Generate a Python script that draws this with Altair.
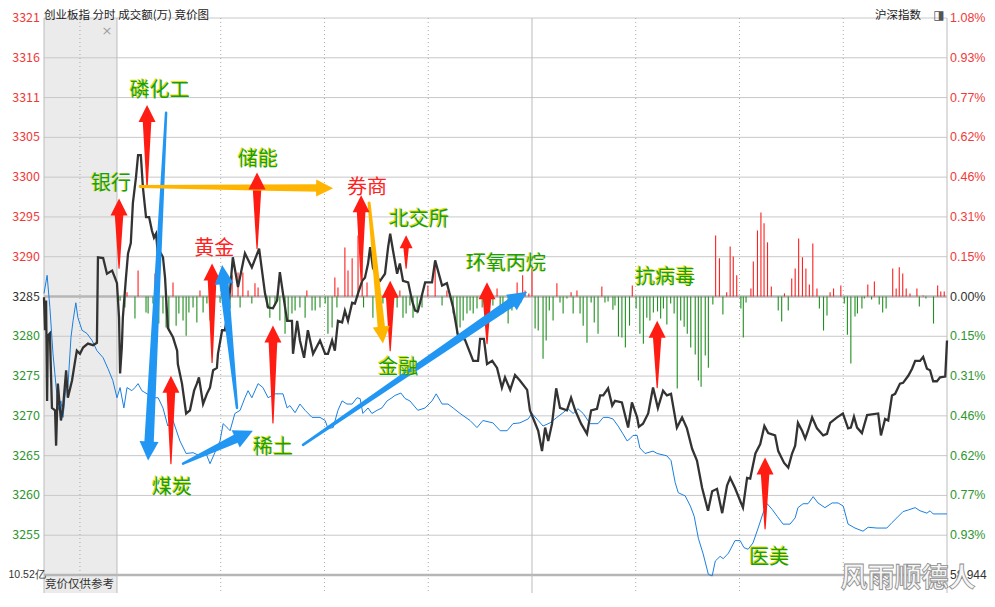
import math
import altair as alt
import pandas as pd

P0 = 3285.2          # previous close of 创业板指
GRID_PCT = 1.08 / 7  # one grid step, in percent

# ---- 创业板指 (black line): (minute from 9:30, index level); negative minutes = call auction
black_auction = [(-21.1,3285.1),(-20.8,3280.9),(-20.5,3284.7),(-20.2,3271.9),(-20.0,3280.2),(-19.4,3280.5),
    (-18.8,3271.0),(-17.9,3270.7),(-17.6,3266.2),(-17.1,3274.1),(-16.2,3269.4),(-15.6,3271.0),(-14.7,3275.8),
    (-14.2,3272.3),(-13.0,3274.5),(-12.1,3277.0),(-11.6,3278.3),(-10.7,3277.9),(-9.8,3278.7),(-8.4,3279.2),
    (-6.9,3279.0),(-5.8,3279.3),(-5.5,3290.2),(-4.0,3290.1),(-2.9,3288.1),(-1.4,3288.5),(-0.6,3287.6),(0.0,3286.9)]
black_am = [(0.6,3282.5),(0.9,3275.4),(1.4,3278.7),(1.7,3282.5),(2.6,3287.6),(3.2,3290.7),(4.0,3292.0),(4.6,3297.1),
    (5.5,3300.4),(6.1,3303.2),(6.9,3303.2),(7.5,3299.1),(8.4,3295.3),(9.3,3295.3),(10.1,3293.6),(10.7,3292.7),
    (11.3,3293.2),(11.9,3290.2),(12.7,3290.7),(13.3,3290.2),(13.9,3287.6),(14.7,3281.2),(16.2,3280.0),(17.4,3278.3),
    (17.6,3276.6),(18.8,3274.1),(20.0,3270.3),(21.1,3270.7),(22.3,3273.2),(23.1,3274.1),(23.7,3274.9),(24.9,3271.5),
    (26.0,3272.8),(26.9,3273.6),(27.8,3275.8),(28.9,3276.1),(29.2,3277.9),(30.4,3280.9),(31.2,3280.9),(31.8,3282.5),
    (32.7,3286.0),(33.5,3290.2),(35.0,3286.4),(37.0,3290.7),(39.0,3288.9),(41.1,3291.3),(42.8,3285.6),(43.7,3283.8),
    (45.1,3283.7),(46.3,3284.7),(47.1,3288.3),(48.0,3285.6),(49.2,3282.1),(50.6,3282.1),(50.9,3277.9),(52.1,3282.1),
    (52.9,3279.6),(54.1,3277.4),(55.2,3280.9),(56.7,3277.9),(58.7,3279.6),(60.2,3277.9),(61.0,3277.9),(62.2,3279.6),
    (63.0,3278.3),(63.9,3282.1),(65.1,3281.9),(65.9,3283.4),(66.8,3282.1),(68.0,3284.4),(68.8,3284.3),(69.7,3285.6),
    (70.9,3287.2),(71.7,3287.6),(72.6,3289.4),(73.2,3291.5),(74.0,3288.9),(75.2,3287.6),(76.1,3287.2),(77.5,3288.1),
    (78.4,3291.5),(79.0,3293.2),(79.8,3291.1),(81.0,3288.1),(81.8,3289.4),(82.7,3287.2),(84.2,3287.0),(85.3,3284.7),
    (86.2,3283.4),(87.0,3283.3),(89.1,3287.0),(91.1,3287.0),(92.0,3289.8),(94.0,3286.6),(95.4,3286.9),(97.2,3283.8),
    (98.6,3280.2),(100.6,3279.7),(103.0,3277.0),(104.4,3277.0),(105.0,3279.8),(106.1,3279.8),(107.0,3276.6),
    (108.5,3277.0),(109.9,3276.1),(111.3,3273.6),(112.2,3274.9),(113.7,3273.3),(115.1,3275.2),(116.5,3274.5),
    (118.6,3273.3),(119.4,3270.7)]
black_pm = [(120.6,3269.4),(121.8,3268.1),(122.9,3265.5),(123.8,3268.5),(124.7,3266.8),(125.8,3269.0),(127.0,3273.5),
    (128.1,3271.0),(130.1,3270.7),(131.3,3272.3),(132.5,3270.7),(134.2,3269.0),(135.9,3267.7),(137.1,3270.7),
    (138.8,3270.9),(139.7,3272.6),(140.6,3272.6),(142.0,3273.5),(143.2,3271.3),(144.0,3271.9),(146.0,3271.7),
    (147.8,3268.5),(148.9,3271.7),(150.4,3269.8),(150.9,3268.6),(152.1,3269.0),(153.6,3270.3),(155.0,3273.6),
    (156.4,3271.0),(157.9,3273.2),(159.0,3272.6),(160.2,3272.8),(161.9,3268.5),(163.4,3269.8),(164.8,3268.4),
    (166.3,3265.8),(167.7,3264.3),(169.2,3260.8),(170.9,3257.9),(172.1,3260.4),(173.5,3260.7),(175.0,3257.6),
    (176.4,3261.1),(177.3,3262.1),(178.7,3260.8),(181.0,3258.3),(182.2,3262.1),(183.1,3262.0),(184.6,3265.2),
    (186.0,3266.4),(187.2,3268.7),(188.3,3267.8),(190.3,3267.5),(191.2,3265.5),(192.9,3264.0),(194.1,3263.4),
    (195.2,3265.2),(196.1,3266.2),(196.9,3269.1),(198.1,3268.1),(199.0,3267.1),(199.8,3268.1),(201.0,3269.8),
    (202.4,3268.4),(204.2,3267.5),(205.3,3267.7),(206.2,3269.1),(208.2,3269.8),(209.9,3270.3),(211.4,3268.4),
    (212.2,3268.5),(213.1,3269.9),(214.0,3268.5),(215.4,3267.8),(216.9,3270.1),(220.1,3270.3),(220.9,3267.5),
    (222.1,3269.6),(223.0,3269.4),(224.1,3272.6),(225.0,3272.8),(226.4,3274.1),(227.3,3274.2),(228.8,3275.1),
    (229.9,3276.0),(230.8,3277.0),(232.2,3277.0),(233.1,3277.5),(234.2,3276.0),(235.1,3275.8),(236.0,3274.4),
    (237.1,3274.4),(238.0,3274.9),(239.5,3275.0),(240.0,3279.6)]

# ---- 沪深指数 (blue line), drawn on the same scale
blue_auction = [(-21.1,3285.6),(-20.2,3287.9),(-19.4,3283.8),(-18.5,3277.9),(-17.4,3272.8),(-17.1,3270.7),
    (-16.2,3271.9),(-15.6,3269.8),(-14.7,3274.1),(-14.2,3273.6),(-13.3,3280.0),(-12.7,3282.1),(-11.9,3284.4),
    (-11.3,3282.5),(-10.1,3280.9),(-8.7,3280.5),(-7.2,3279.6),(-5.8,3278.3),(-4.0,3277.4),(-2.6,3276.0),
    (-1.2,3274.5),(0.0,3272.3)]
blue_am = [(0.9,3273.6),(2.0,3271.0),(2.9,3273.6),(4.3,3273.2),(5.2,3273.6),(6.1,3274.1),(7.2,3273.2),(8.7,3272.8),
    (10.1,3272.3),(11.9,3272.3),(13.3,3271.0),(14.7,3268.7),(16.2,3269.4),(18.2,3266.8),(20.0,3265.2),(22.0,3265.3),
    (24.0,3264.9),(25.5,3265.5),(26.9,3263.9),(28.3,3265.3),(29.8,3266.8),(30.7,3269.0),(32.1,3268.4),(32.7,3268.1),
    (34.1,3270.3),(35.6,3270.7),(37.0,3272.3),(37.9,3273.2),(39.0,3272.3),(40.8,3274.1),(42.2,3273.6),(43.7,3272.3),
    (45.7,3272.8),(48.0,3272.8),(49.2,3271.0),(50.0,3271.3),(51.5,3270.4),(52.9,3271.5),(54.4,3270.7),(56.4,3269.8),
    (58.7,3269.8),(60.2,3269.4),(61.0,3268.4),(62.5,3268.5),(63.9,3270.7),(65.1,3271.9),(66.5,3271.5),(68.0,3271.5),
    (69.4,3272.3),(70.3,3272.2),(71.1,3270.3),(72.6,3271.0),(73.7,3270.3),(75.2,3270.7),(76.6,3271.0),(78.1,3271.9),
    (79.5,3272.3),(80.4,3272.6),(82.1,3272.9),(83.3,3272.2),(84.7,3271.9),(87.0,3270.7),(89.1,3271.0),(91.1,3271.9),
    (92.3,3272.8),(94.0,3271.5),(95.7,3271.5),(97.2,3271.0),(99.2,3270.3),(102.1,3269.4),(104.1,3268.5),
    (105.8,3269.4),(108.7,3269.1),(110.8,3268.1),(112.8,3268.1),(114.5,3269.0),(116.5,3269.1),(118.9,3269.6),
    (120.0,3270.3)]
blue_pm = [(121.8,3269.4),(123.2,3268.7),(125.2,3269.1),(127.2,3269.8),(129.0,3270.4),(130.4,3270.9),(131.9,3270.3),
    (133.3,3270.9),(134.8,3270.3),(136.8,3269.0),(139.1,3269.0),(140.6,3269.8),(142.0,3269.8),(143.4,3269.6),
    (144.9,3268.7),(146.3,3267.7),(147.5,3266.8),(148.4,3267.1),(149.2,3267.5),(150.4,3267.5),(151.2,3265.9),
    (152.7,3265.2),(155.0,3265.5),(156.2,3265.2),(159.0,3264.9),(160.2,3264.3),(161.4,3261.5),(162.3,3260.2),
    (164.3,3259.8),(165.8,3258.5),(166.9,3257.2),(168.1,3254.4),(169.5,3252.4),(171.0,3249.8),(172.1,3249.6),
    (173.0,3251.5),(174.4,3252.1),(175.3,3251.8),(176.8,3252.5),(178.7,3254.1),(180.2,3254.1),(181.3,3253.2),
    (182.5,3253.0),(183.9,3253.8),(185.4,3255.7),(186.8,3257.6),(188.0,3258.8),(189.4,3258.1),(190.9,3257.2),
    (192.6,3256.2),(194.6,3256.2),(196.1,3257.0),(196.9,3258.3),(198.4,3258.8),(199.8,3258.8),(201.3,3259.7),
    (202.7,3258.9),(204.7,3258.3),(206.8,3258.9),(208.5,3258.9),(210.0,3258.5),(211.4,3256.2),(213.4,3255.7),
    (215.7,3255.3),(217.2,3255.8),(219.8,3255.7),(222.6,3255.7),(224.1,3256.4),(225.5,3257.0),(227.3,3257.8),
    (228.8,3258.0),(230.8,3258.3),(232.2,3257.9),(234.2,3257.6),(235.1,3257.9),(236.0,3257.5),(238.0,3257.5),
    (240.0,3257.5)]

# ---- red / green bars around the zero line (in percent)
flow_am = [(0.9,-0.016),(2.3,-0.043),(2.9,0.016),(5.2,-0.085),(6.1,0.101),(8.4,-0.062),(9.0,-0.066),(10.4,-0.027),
    (11.0,0.089),(12.1,-0.105),(13.3,-0.066),(14.2,-0.120),(15.0,-0.124),(16.2,0.054),(17.1,-0.113),(17.9,-0.066),
    (19.1,-0.093),(20.0,-0.152),(20.8,-0.062),(22.0,-0.043),(23.1,-0.101),(24.0,0.023),(24.9,-0.062),(26.0,-0.027),
    (26.9,-0.093),(28.1,-0.054),(29.8,-0.023),(32.7,-0.047),(33.3,0.082),(35.0,0.093),(35.6,-0.043),(36.4,0.093),
    (37.9,0.023),(39.0,-0.027),(39.9,0.051),(40.8,0.035),(43.4,-0.043),(44.2,-0.082),(45.7,-0.035),(47.1,-0.093),
    (48.6,-0.144),(49.5,-0.093),(50.6,-0.066),(51.5,-0.054),(52.9,-0.043),(54.4,-0.082),(54.9,0.023),(56.4,-0.054),
    (57.3,-0.054),(58.7,-0.043),(60.2,-0.027),(61.0,-0.144),(62.2,-0.120),(63.0,0.074),(63.6,-0.043),(63.9,0.035),
    (65.9,0.190),(66.8,0.101),(68.0,0.148),(69.7,0.237),(70.9,0.179),(71.3,-0.043),(72.3,0.054),(74.0,-0.082),
    (75.5,-0.035),(76.9,-0.027),(78.4,-0.054),(79.5,-0.023),(81.0,-0.043),(81.8,0.023),(82.7,-0.082),(83.6,-0.066),
    (84.7,-0.035),(85.6,-0.082),(86.8,-0.066),(88.2,-0.043),(89.9,0.043),(92.0,0.128),(94.0,-0.035),(95.4,0.023),
    (97.2,-0.066),(98.3,-0.144),(99.2,-0.120),(100.1,-0.093),(101.2,-0.066),(102.1,-0.054),(103.0,-0.066),
    (104.1,-0.047),(105.6,-0.043),(107.3,-0.047),(108.7,-0.035),(109.9,0.031),(110.8,-0.054),(111.6,-0.066),
    (113.1,-0.105),(114.2,-0.054),(115.1,-0.035),(115.7,0.054),(116.8,-0.023),(117.3,0.082),(118.0,0.023),
    (119.1,0.012),(120.0,0.109)]
flow_pm = [(120.9,-0.124),(121.8,-0.132),(123.2,-0.241),(124.1,-0.171),(125.0,-0.054),(126.1,-0.093),(127.2,0.051),
    (128.1,-0.023),(129.0,-0.066),(130.1,-0.008),(131.3,0.016),(131.9,-0.066),(133.0,0.023),(133.9,-0.066),
    (134.8,-0.113),(135.9,-0.179),(137.1,-0.023),(138.0,-0.101),(139.1,-0.144),(140.2,0.039),(141.1,-0.023),
    (142.0,-0.019),(143.4,-0.051),(144.0,-0.035),(145.0,-0.155),(146.0,-0.159),(147.0,-0.198),(148.2,-0.113),
    (149.0,0.043),(150.1,-0.047),(151.2,-0.144),(152.2,-0.183),(153.2,-0.082),(154.1,-0.093),(155.1,-0.062),
    (156.3,-0.058),(157.2,-0.085),(158.0,-0.047),(159.0,-0.109),(160.1,-0.027),(161.1,-0.066),(162.0,-0.357),
    (163.0,-0.093),(164.0,-0.117),(164.9,-0.144),(165.9,-0.198),(167.2,-0.225),(168.1,-0.326),(168.9,-0.350),
    (170.1,-0.229),(171.0,-0.276),(172.3,-0.031),(173.1,0.237),(174.2,0.148),(175.2,-0.070),(176.3,0.016),
    (177.3,0.194),(178.2,0.155),(179.2,0.082),(180.4,-0.047),(181.1,-0.159),(181.9,-0.023),(183.3,0.031),
    (184.0,0.136),(185.2,0.256),(186.2,0.326),(187.1,0.284),(188.1,0.210),(189.2,0.039),(191.2,-0.054),
    (192.2,-0.097),(193.0,0.012),(194.1,-0.054),(195.1,0.070),(196.1,0.109),(197.1,0.225),(198.2,0.152),
    (199.2,0.109),(200.2,0.047),(201.2,0.206),(202.4,0.031),(203.1,-0.047),(204.3,-0.132),(205.3,-0.074),
    (206.2,0.016),(207.2,0.031),(209.3,0.043),(210.3,-0.027),(211.2,-0.148),(212.2,-0.260),(213.4,-0.078),
    (214.1,-0.066),(215.4,-0.047),(216.1,-0.008),(217.1,0.047),(218.2,-0.012),(219.0,0.058),(220.4,-0.031),
    (221.4,-0.062),(222.4,-0.047),(224.3,0.109),(225.3,0.031),(226.2,0.113),(227.2,0.089),(228.2,0.031),
    (229.3,0.012),(231.3,0.031),(232.0,-0.039),(233.1,0.004),(233.9,-0.008),(236.1,-0.105),(237.3,0.043),
    (238.2,0.019),(239.2,0.019)]

# ---- axis labels (grid steps +7 .. -6) and the panel-border values (step -7)
grid_levels = list(range(7, -8, -1))
left_labels = ["3321","3316","3311","3305","3300","3295","3290","3285","3280","3275","3270","3265","3260","3255"]
right_labels = ["1.08%","0.93%","0.77%","0.62%","0.46%","0.31%","0.15%","0.00%","0.15%","0.31%","0.46%","0.62%",
                "0.77%","0.93%"]
amount_left = "10.52亿"
amount_right = "58,944"
v_solid = [-21.1, 0, 120, 240]
v_dotted = [-10.7, 30, 60, 90, 150, 180, 210]

# ---- annotations: sector names (text, minute, level, colour kind)
sectors = [("磷化工",12.4,3311.4,"g"),("银行",-1.7,3299.5,"g"),("储能",40.8,3302.6,"g"),("券商",72.3,3299.0,"r"),
           ("黄金",28.1,3291.2,"r"),("北交所",87.3,3295.0,"g"),("环氧丙烷",112.5,3289.3,"g"),("抗病毒",158.5,3287.6,"g"),
           ("金融",81.3,3276.1,"g"),("稀土",45.1,3265.9,"g"),("煤炭",15.9,3260.8,"g"),("医美",188.6,3251.9,"g")]
# arrows: (kind, tail minute, tail level, tip minute, tip level)
arrow_specs = [("red",8.7,3299.1,8.7,3309.6),("red",0.6,3288.8,0.6,3297.7),("red",40.5,3291.3,40.5,3301.0),
    ("red",70.6,3287.2,70.6,3298.1),("red",27.5,3276.8,27.5,3289.4),("red",83.6,3288.8,83.6,3293.0),
    ("red",79.0,3278.3,79.0,3287.2),("red",45.1,3269.1,45.1,3281.5),("red",15.6,3263.9,15.6,3275.1),
    ("red",107.0,3279.2,107.0,3287.0),("red",156.2,3273.6,156.2,3282.1),("red",187.4,3255.6,187.4,3264.7),
    ("blue",14.2,3308.6,9.0,3264.3),("blue",34.7,3271.0,30.4,3289.2),("blue",19.1,3263.9,39.3,3268.1),
    ("blue",53.8,3266.3,118.6,3285.8),
    ("yellow",6.7,3299.2,62.5,3299.0),("yellow",72.9,3297.1,76.9,3279.2)]


def to_pct(p):
    return (p - P0) / P0 * 100.0


# ---------------- layout / scales ----------------
W, H_MAIN, H_EXTRA = 903, 557, 18
H = H_MAIN + H_EXTRA
T0, T1 = -21.1, 240.0
Y_TOP = 1.08
Y_BOT = -1.08 - 2.16 * H_EXTRA / H_MAIN
KX = W / (T1 - T0)
KY = H / (Y_TOP - Y_BOT)
xs = alt.Scale(domain=[T0, T1], nice=False, zero=False)
ys = alt.Scale(domain=[Y_BOT, Y_TOP], nice=False, zero=False)


def X(f):
    return alt.X(f, type="quantitative", scale=xs, axis=None)


def Y(f):
    return alt.Y(f, type="quantitative", scale=ys, axis=None)


RED_LAB, GREEN_LAB, DARK = "#f03a3a", "#2e962e", "#333333"
FONT_CJK = "Noto Sans CJK SC"
FONT_NUM = "Liberation Sans"

# background of the call auction
auc = pd.DataFrame({"a": [T0], "b": [0.0], "lo": [Y_BOT], "hi": [Y_TOP]})
auction_rect = alt.Chart(auc).mark_rect(color="#ebebeb").encode(x=X("a"), x2="b", y=Y("lo"), y2="hi")

# grid
gdf = pd.DataFrame({"k": grid_levels})
gdf["g"] = gdf["k"] * GRID_PCT
gdf["sw"] = gdf["k"].apply(lambda k: 2.5 if k in (0, -7) else 1.0)
gdf["c"] = gdf["k"].apply(lambda k: "#b6b6b6" if k in (0, -7) else "#c8c8c8")
hgrid = alt.Chart(gdf).mark_rule().encode(
    y=Y("g"), strokeWidth=alt.StrokeWidth("sw:Q", scale=None), color=alt.Color("c:N", scale=None))
vsolid = alt.Chart(pd.DataFrame({"t": v_solid})).mark_rule(color="#bcbcbc", strokeWidth=1).encode(x=X("t"))
vdot = alt.Chart(pd.DataFrame({"t": v_dotted})).mark_rule(
    color="#aaaaaa", strokeWidth=1, strokeDash=[1, 3]).encode(x=X("t"))

# bars
fdf = pd.DataFrame(flow_am + flow_pm, columns=["t", "v"])
fdf["c"] = fdf["v"].apply(lambda v: "#ff1f1f" if v > 0 else "#1f8f1f")
bars = alt.Chart(fdf).mark_rule(strokeWidth=1.1).encode(
    x=X("t"), y=Y("v"), y2=alt.datum(0), color=alt.Color("c:N", scale=None))

# lines
bdf = pd.DataFrame(blue_auction + blue_am + blue_pm, columns=["t", "p"])
bdf["pct"] = to_pct(bdf["p"])
bdf["i"] = range(len(bdf))
blue_line = alt.Chart(bdf).mark_line(color="#1a7fe0", strokeWidth=1).encode(x=X("t"), y=Y("pct"), order="i:Q")

kdf = pd.DataFrame(black_auction + black_am + black_pm, columns=["t", "p"])
kdf["pct"] = to_pct(kdf["p"])
kdf["i"] = range(len(kdf))
black_line = alt.Chart(kdf).mark_line(color="#333333", strokeWidth=2.3).encode(x=X("t"), y=Y("pct"), order="i:Q")

# arrows
ARROW = {"red": ("#ff1c12", 1.2, 9.0, 17.0), "blue": ("#2196f3", 2.5, 9.5, 19.0), "yellow": ("#ffb400", 3.0, 7.5, 17.0)}
trail_rows, head_rows = [], []
for i, (kind, ta, pa, tb, pb) in enumerate(arrow_specs):
    col, w0, w1, hs = ARROW[kind]
    ya, yb = to_pct(pa), to_pct(pb)
    dx = (tb - ta) * KX
    dy = (yb - ya) * KY
    L = math.hypot(dx, dy)
    if L < 50:
        hs, w1 = 13.0, 6.0
    f = max(0.0, 1 - 0.75 * hs / L)
    trail_rows.append(dict(id=i, seq=0, t=ta, pct=ya, w=w0, c=col))
    trail_rows.append(dict(id=i, seq=1, t=ta + f * (tb - ta), pct=ya + f * (yb - ya), w=w1, c=col))
    ang = math.degrees(math.atan2(dx, dy)) % 360
    head_rows.append(dict(t=tb, pct=yb, ang=ang, s=hs * hs, c=col))
tdf = pd.DataFrame(trail_rows)
hdf = pd.DataFrame(head_rows)
shafts = alt.Chart(tdf).mark_trail().encode(
    x=X("t"), y=Y("pct"), size=alt.Size("w:Q", scale=None), color=alt.Color("c:N", scale=None),
    detail="id:N", order="seq:Q")
heads = alt.Chart(hdf).mark_point(shape="M0,0L1,2L-1,2Z", filled=True, opacity=1, strokeWidth=0).encode(
    x=X("t"), y=Y("pct"), angle=alt.Angle("ang:Q", scale=None), size=alt.Size("s:Q", scale=None),
    color=alt.Color("c:N", scale=None))

# sector texts
sdf = pd.DataFrame(sectors, columns=["txt", "t", "p", "k"])
sdf["pct"] = to_pct(sdf["p"])
sdf["c"] = sdf["k"].map({"g": "#14a014", "r": "#ff2020"})
glow = alt.Chart(sdf[sdf["k"] == "g"]).mark_text(
    font=FONT_CJK, fontSize=20, color="#e8dc00", dx=-0.8, dy=-0.6, baseline="middle").encode(
    x=X("t"), y=Y("pct"), text="txt:N")
stext = alt.Chart(sdf).mark_text(font=FONT_CJK, fontSize=20, baseline="middle").encode(
    x=X("t"), y=Y("pct"), text="txt:N", color=alt.Color("c:N", scale=None))

# axis labels
ldf = pd.DataFrame({"k": grid_levels[:-1], "L": left_labels, "R": right_labels})
ldf["g"] = ldf["k"] * GRID_PCT
ldf["c"] = ldf["k"].apply(lambda k: RED_LAB if k > 0 else (DARK if k == 0 else GREEN_LAB))
left_lab = alt.Chart(ldf).mark_text(align="right", baseline="middle", font=FONT_CJK, fontSize=12.5).encode(
    x=alt.value(-4), y=Y("g"), text="L:N", color=alt.Color("c:N", scale=None))
right_lab = alt.Chart(ldf).mark_text(align="left", baseline="middle", font=FONT_NUM, fontSize=12.5).encode(
    x=alt.value(906), y=Y("g"), text="R:N", color=alt.Color("c:N", scale=None))
adf = pd.DataFrame({"g": [-7 * GRID_PCT], "L": [amount_left], "R": [amount_right]})
amt_left = alt.Chart(adf).mark_text(align="left", baseline="middle", font=FONT_NUM, fontSize=10.5,
                                    color=DARK).encode(x=alt.value(-35.5), y=Y("g"), text="L:N")
amt_right = alt.Chart(adf).mark_text(align="left", baseline="middle", font=FONT_NUM, fontSize=12,
                                     color=DARK).encode(x=alt.value(906), y=Y("g"), text="R:N")


# header and decorations
def label(txt, **kw):
    return alt.Chart(pd.DataFrame({"s": [txt]})).mark_text(**kw).encode(text="s:N")


header = label("创业板指  分时 成交额(万) 竞价图", font=FONT_CJK, fontSize=11.5, color="#222222",
               align="left", baseline="top", x=0, y=-8.5)
hs_idx = label("沪深指数", font=FONT_CJK, fontSize=11.5, color="#222222", align="right", baseline="top", x=877, y=-8.5)
icon = label("◨", font="DejaVu Sans", fontSize=12, color="#555555", align="center", baseline="top", x=895, y=-8.5)
close_x = label("×", font="DejaVu Sans", fontSize=13, color="#a0a0a0", align="center", baseline="middle", x=63, y=13)
ref_txt = label("竞价仅供参考", font=FONT_CJK, fontSize=11.5, color="#333333", align="left", baseline="middle",
                x=1, y=567)
water = label("风雨顺德人", font=FONT_CJK, fontSize=27, fontWeight="bold", color="#f6f6f6", stroke="#8c8c8c",
              strokeWidth=0.8, align="center", baseline="middle", x=864, y=561)

chart = alt.layer(
    auction_rect, hgrid, vsolid, vdot, bars, blue_line, black_line,
    shafts, heads, glow, stext, left_lab, right_lab, amt_left, amt_right,
    header, hs_idx, icon, close_x, ref_txt, water,
).properties(
    width=W, height=H,
    padding={"left": 36, "top": 10, "right": 40, "bottom": 0},
    autosize=alt.AutoSizeParams(type="none"),
    background="white",
).configure_view(stroke=None)

chart.save("out.html", embed_options={"renderer": "svg", "actions": False})
